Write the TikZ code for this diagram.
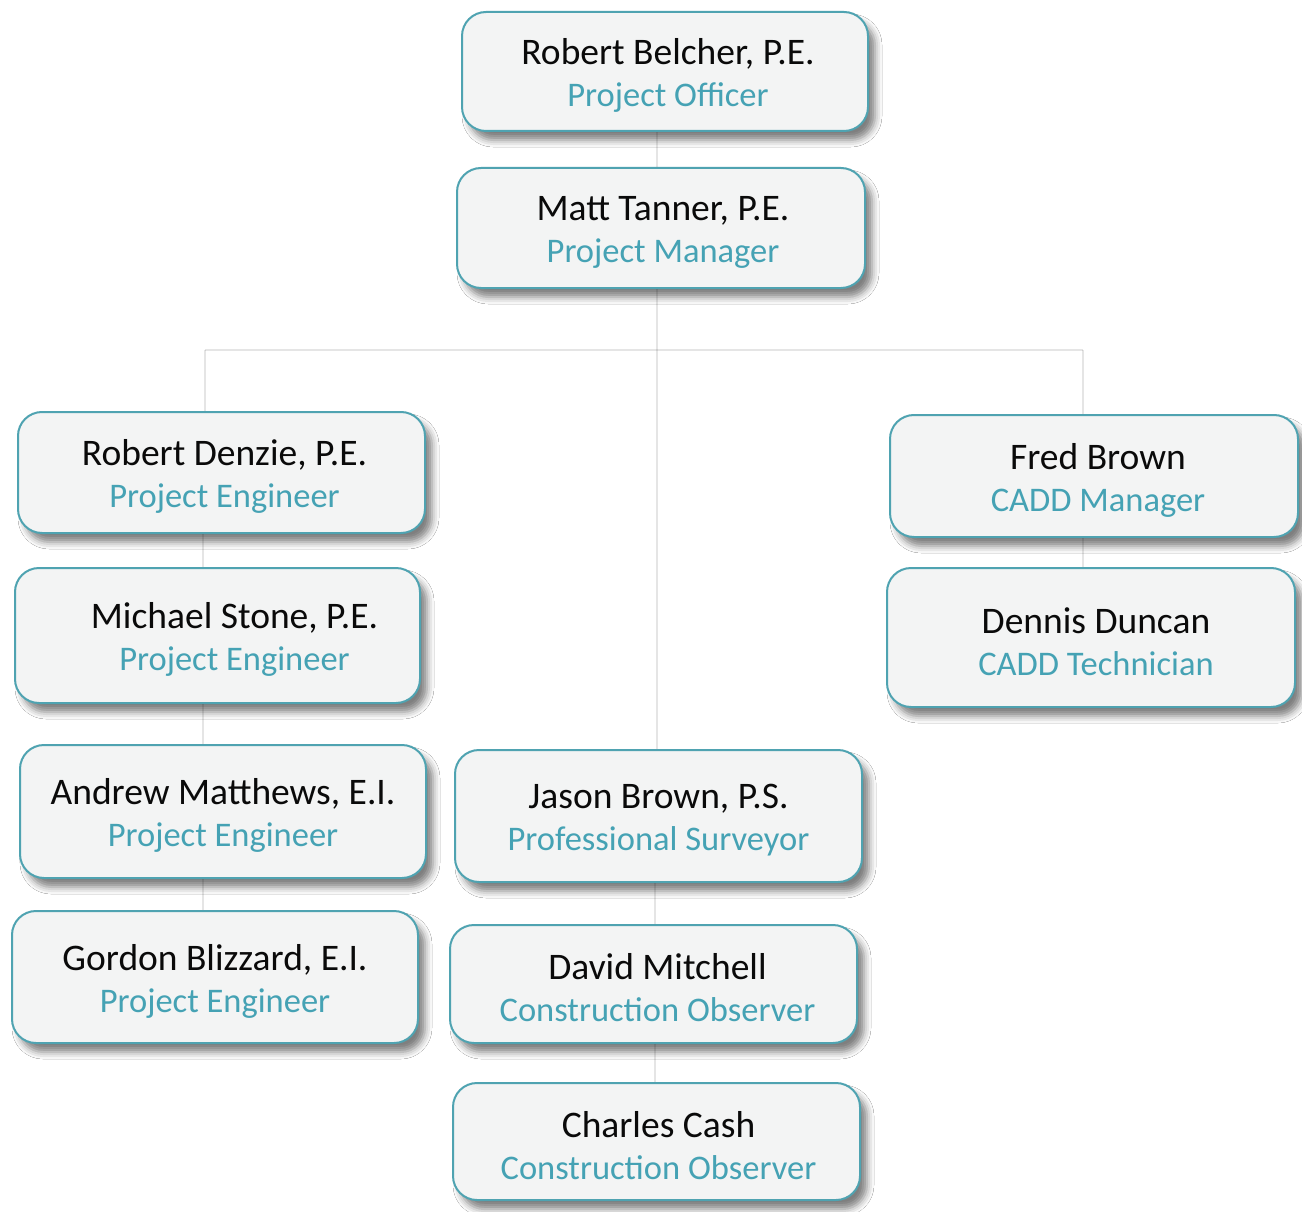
\documentclass[tikz,border=0pt]{standalone}
\usepackage{fontspec}
\setmainfont{Carlito}
\usetikzlibrary{shadows.blur}
\definecolor{boxline}{HTML}{4FA3B1}
\definecolor{boxfill}{HTML}{F3F4F4}
\definecolor{titlecol}{HTML}{45A2B4}
\definecolor{namecol}{HTML}{0A0A0A}
\tikzset{
  person/.style={draw=boxline, line width=2pt, fill=boxfill, rounded corners=24pt,
    inner sep=0pt,
    blur shadow={shadow xshift=7pt, shadow yshift=-9pt, shadow blur radius=7pt, shadow opacity=50}},
  ptext/.style={align=center, inner sep=0pt, text=namecol, yshift=-4pt,
    font=\fontsize{34.5}{42}\selectfont},
  link/.style={draw=black, opacity=0.1, line width=2.5pt}
}
\newcommand{\pbox}[2]{{\fontsize{37.5}{42}\selectfont #1}\\\textcolor{titlecol}{#2}}
\begin{document}
\begin{tikzpicture}[x=1pt,y=-1pt]
\useasboundingbox (0,0) rectangle (1302,1212);
\fill[white] (0,0) rectangle (1302,1212);
\coordinate (hub) at (657,350);
\coordinate (hl) at (205,350);
\coordinate (hr) at (1083,350);
\coordinate (cl) at (203,0);
\coordinate (cc) at (655,0);
\coordinate (cr) at (1083,0);

\node[person, minimum width=406pt, minimum height=119pt] (belcher) at (665,71.5) {};
\node[ptext] (belcher-t) at ([xshift=3pt]belcher.center) {\pbox{Robert Belcher, P.E.}{Project Officer}};
\node[person, minimum width=408pt, minimum height=120pt] (tanner) at (661,228) {};
\node[ptext] (tanner-t) at ([xshift=2pt]tanner.center) {\pbox{Matt Tanner, P.E.}{Project Manager}};
\node[person, minimum width=407pt, minimum height=121pt] (denzie) at (221.5,472.5) {};
\node[ptext] (denzie-t) at ([xshift=3pt]denzie.center) {\pbox{Robert Denzie, P.E.}{Project Engineer}};
\node[person, minimum width=405pt, minimum height=135pt] (stone) at (217.5,635.5) {};
\node[ptext] (stone-t) at ([xshift=17pt]stone.center) {\pbox{Michael Stone, P.E.}{Project Engineer}};
\node[person, minimum width=406pt, minimum height=133pt] (matthews) at (223,811.5) {};
\node[ptext] (matthews-t) at (matthews.center) {\pbox{Andrew Matthews, E.I.}{Project Engineer}};
\node[person, minimum width=406pt, minimum height=132pt] (blizzard) at (215,977) {};
\node[ptext] (blizzard-t) at (blizzard.center) {\pbox{Gordon Blizzard, E.I.}{Project Engineer}};
\node[person, minimum width=408pt, minimum height=122pt] (fred) at (1094,476) {};
\node[ptext] (fred-t) at ([xshift=4pt]fred.center) {\pbox{Fred Brown}{CADD Manager}};
\node[person, minimum width=408pt, minimum height=139pt] (dennis) at (1091,637.5) {};
\node[ptext] (dennis-t) at ([xshift=5pt]dennis.center) {\pbox{Dennis Duncan}{CADD Technician}};
\node[person, minimum width=407pt, minimum height=132pt] (jason) at (658.5,816) {};
\node[ptext] (jason-t) at (jason.center) {\pbox{Jason Brown, P.S.}{Professional Surveyor}};
\node[person, minimum width=407pt, minimum height=118pt] (david) at (653.5,984) {};
\node[ptext] (david-t) at ([xshift=4pt]david.center) {\pbox{David Mitchell}{Construction Observer}};
\node[person, minimum width=407pt, minimum height=117pt] (charles) at (656.5,1141.5) {};
\node[ptext] (charles-t) at ([xshift=2pt]charles.center) {\pbox{Charles Cash}{Construction Observer}};

\draw[link] (belcher.south -| hub) -- (tanner.north -| hub);
\draw[link] (tanner.south -| hub) -- (jason.north -| hub);
\draw[link] (hl) -- (hr);
\draw[link] (hl) -- (denzie.north -| hl);
\draw[link] (hr) -- (fred.north -| hr);
\draw[link] (denzie.south -| cl) -- (stone.north -| cl);
\draw[link] (stone.south -| cl) -- (matthews.north -| cl);
\draw[link] (matthews.south -| cl) -- (blizzard.north -| cl);
\draw[link] (fred.south -| cr) -- (dennis.north -| cr);
\draw[link] (jason.south -| cc) -- (david.north -| cc);
\draw[link] (david.south -| cc) -- (charles.north -| cc);
\end{tikzpicture}
\end{document}
